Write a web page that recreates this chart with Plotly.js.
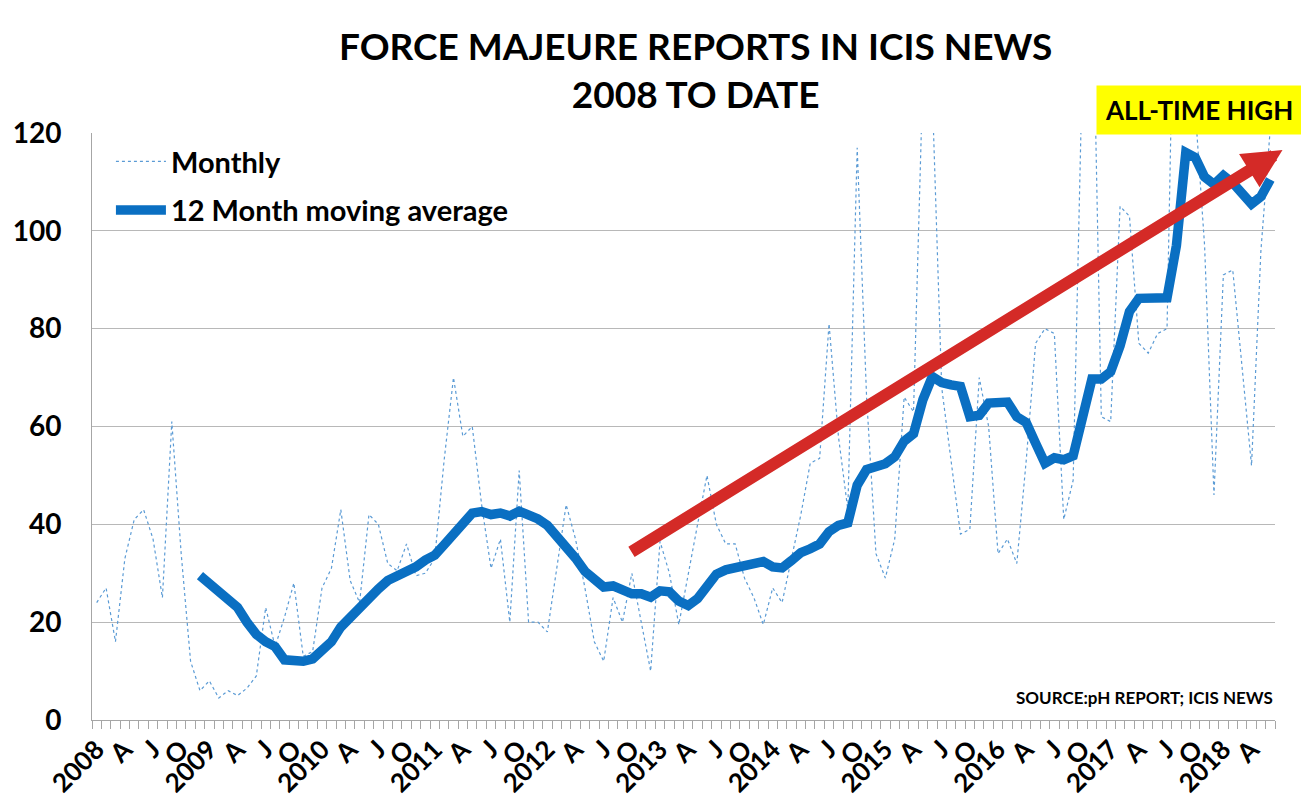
<!DOCTYPE html>
<html>
<head>
<meta charset="utf-8">
<script src="https://cdn.plot.ly/plotly-3.0.1.min.js"></script>
<style>
  html, body { margin: 0; padding: 0; background: #ffffff; }
  #chart { width: 1301px; height: 808px; }
</style>
</head>
<body>
<div id="chart"></div>
<script>
// Month index 0 = Jan 2008 ... 125 = Jun 2018
const monthIndex = Array.from({length: 126}, (_, i) => i);

// Monthly force majeure reports (values above 120 are cut off by the axis in the original)
const monthly = [
  24, 27, 16, 33, 41, 43, 37, 25, 61, 34, 12, 6,          // 2008
  8, 4.5, 6, 5, 6.5, 9, 23, 15, 21, 28, 13, 14,           // 2009
  27, 31, 43, 28.5, 24, 42, 40, 32, 30.5, 36, 29.5, 30,   // 2010
  33, 53, 70, 58, 60, 44, 31, 37, 20, 51, 20, 20,         // 2011
  18, 31, 44, 37, 27, 16, 12, 25, 20, 30, 20, 10,         // 2012
  36.5, 30, 19.5, 30, 40, 50, 40, 36, 36, 29, 25, 19.5,   // 2013
  27, 24, 33, 42, 52.5, 53.5, 81, 58, 43, 117, 66, 34,    // 2014
  29, 37, 66, 63, 132, 128, 68, 53, 38, 39, 70, 60,       // 2015
  34, 37, 32, 53, 77, 80, 79, 41, 49, 135, 160, 62,       // 2016
  61, 105, 103, 77, 75, 79, 80, 180, 270, 125, 97, 46,    // 2017
  91, 92, 72, 52, 96, 121                                 // 2018
];

// 12 month moving average (starts Dec 2008)
const movingAvg = [
  null, null, null, null, null, null, null, null, null, null, null, 29.5,
  28, 26.5, 25, 23, 20, 17.5, 16, 15, 12.3, 12, 12, 12.5,
  14, 16, 19, 21, 22.7, 25.2, 26.8, 28.5, 29.3, 30, 31.3, 32.7,
  33.7, 35.8, 38, 40.3, 42.3, 42.6, 42, 42.3, 41.7, 42.7, 42.1, 41.1,
  39.8, 37.8, 35.5, 33.1, 30.4, 28.6, 27.2, 27.4, 26.4, 25.8, 25.8, 25.1,
  26.4, 26.2, 24.3, 23.4, 24.8, 27.5, 29.8, 30.7, 31.1, 31.4, 32, 32.4,
  31.3, 31.1, 32.6, 34.2, 35, 36, 38.5, 39.8, 40.3, 48, 51.2, 52,
  52.4, 53.8, 57, 58.5, 65.5, 70.2, 69, 68.5, 68.2, 62, 62.3, 64.8,
  65, 65, 62, 60.8, 56.6, 52.5, 53.6, 53.2, 54, 62, 69.7, 69.7,
  71.2, 76.5, 83.5, 86.2, 86.3, 86.3, 86.3, 97, 116, 115, 111, 109.5,
  111.3, 109.8, 107.5, 105.5, 107, 110.5
];

// Tick labels (every third month)
const tickVals = [0, 3, 6, 9, 12, 15, 18, 21, 24, 27, 30, 33, 36, 39, 42, 45, 48, 51, 54, 57,
  60, 63, 66, 69, 72, 75, 78, 81, 84, 87, 90, 93, 96, 99, 102, 105, 108, 111, 114, 117, 120, 123];
const tickText = ['2008', 'A', 'J', 'O', '2009', 'A', 'J', 'O', '2010', 'A', 'J', 'O',
  '2011', 'A', 'J', 'O', '2012', 'A', 'J', 'O', '2013', 'A', 'J', 'O', '2014', 'A', 'J', 'O',
  '2015', 'A', 'J', 'O', '2016', 'A', 'J', 'O', '2017', 'A', 'J', 'O', '2018', 'A'];
const yTicks = [0, 20, 40, 60, 80, 100, 120];

// Trend arrow (tail -> head), in month index / value units
const arrowTail = {x: 56.8, y: 34.2};
const arrowHead = {x: 126.3, y: 116.5};

const FONT = 'Lato, "Open Sans", "DejaVu Sans", sans-serif';

const traces = [
  {
    x: monthIndex, y: monthly, type: 'scatter', mode: 'lines', name: 'Monthly',
    line: {color: '#5b9bd5', width: 1.2, dash: 'dot'},
    legendgroup: 'a'
  },
  {
    x: monthIndex, y: movingAvg, type: 'scatter', mode: 'lines', name: '12 Month moving average',
    line: {color: '#0a6fc2', width: 9.5},
    connectgaps: false,
    legendgroup: 'b'
  }
];

const layout = {
  width: 1301, height: 808,
  margin: {l: 92, r: 26, t: 133, b: 88},
  paper_bgcolor: '#ffffff', plot_bgcolor: '#ffffff',
  font: {family: FONT, color: '#000000'},
  showlegend: true,
  legend: {
    x: 0.016, y: 0.995, xanchor: 'left', yanchor: 'top',
    bgcolor: 'rgba(0,0,0,0)',
    font: {family: FONT, size: 29, color: '#000000', weight: 'bold'},
    tracegroupgap: 8, itemwidth: 50
  },
  xaxis: {
    range: [-0.5, 125.5],
    tickmode: 'array', tickvals: tickVals, ticktext: tickText,
    tickangle: -45,
    tickfont: {family: FONT, size: 26, color: '#000000', weight: 'bold'},
    ticks: '', ticklabelstandoff: 3,
    showgrid: false, zeroline: false,
    showline: true, linecolor: '#a6a6a6', linewidth: 1,
    minor: {tick0: -0.5, dtick: 1, ticks: 'outside', ticklen: 8, tickcolor: '#a6a6a6', tickwidth: 1, showgrid: false}
  },
  yaxis: {
    range: [0, 120],
    tickvals: yTicks,
    tickfont: {family: FONT, size: 28, color: '#000000', weight: 'bold'},
    ticks: '', ticklabelstandoff: 24,
    showgrid: true, gridcolor: '#b8b8b8', gridwidth: 1,
    zeroline: false,
    showline: true, linecolor: '#a6a6a6', linewidth: 1
  },
  annotations: [
    {
      xref: 'paper', yref: 'paper', x: 0.51, y: 1.108, xanchor: 'center', yanchor: 'middle',
      text: 'FORCE MAJEURE REPORTS IN ICIS NEWS<br>2008 TO DATE', showarrow: false,
      font: {family: FONT, size: 37, color: '#000000', weight: 'bold'}
    },
    {
      xref: 'paper', yref: 'paper', x: 1.023, y: 1.04, xanchor: 'right', yanchor: 'middle',
      text: 'ALL-TIME HIGH', showarrow: false, bgcolor: '#ffff00', borderpad: 8,
      font: {family: FONT, size: 26, color: '#000000', weight: 'bold'}
    },
    {
      xref: 'paper', yref: 'paper', x: 1.0, y: 0.038, xanchor: 'right', yanchor: 'middle',
      text: 'SOURCE:pH REPORT; ICIS NEWS', showarrow: false,
      font: {family: FONT, size: 17, color: '#000000', weight: 'bold'}
    },
    {
      xref: 'x', yref: 'y', axref: 'x', ayref: 'y',
      x: arrowHead.x, y: arrowHead.y, ax: arrowTail.x, ay: arrowTail.y,
      text: '', showarrow: true, arrowhead: 2, arrowsize: 0.65, arrowwidth: 12,
      arrowcolor: '#d42a27', standoff: 0
    }
  ]
};

Plotly.newPlot('chart', traces, layout, {displayModeBar: false, staticPlot: true});
</script>
</body>
</html>
